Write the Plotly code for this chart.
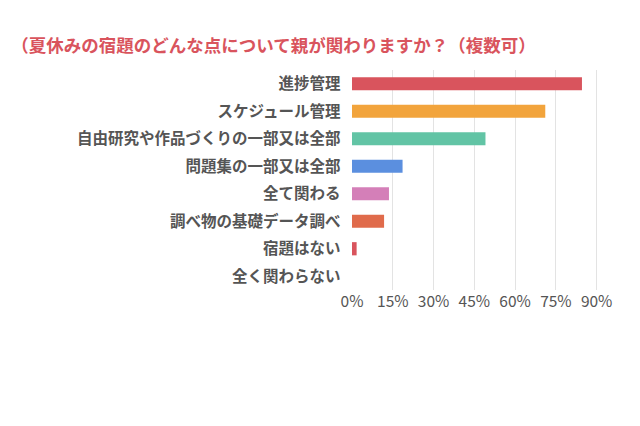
import plotly.graph_objects as go

categories = ["進捗管理", "スケジュール管理", "自由研究や作品づくりの一部又は全部", "問題集の一部又は全部",
              "全て関わる", "調べ物の基礎データ調べ", "宿題はない", "全く関わらない"]
values = [84.6, 71.1, 49.1, 18.6, 13.6, 11.8, 1.7, 0]
colors = ["#d9545d", "#f2a43c", "#62c4a5", "#5b8fdf", "#d47fb8", "#e06b4b", "#d9545d", "#d9545d"]
tick_vals = [0, 15, 30, 45, 60, 75, 90]
tick_text = ["0%", "15%", "30%", "45%", "60%", "75%", "90%"]

fig = go.Figure(go.Bar(
    x=values, y=categories, orientation="h",
    marker=dict(color=colors, line=dict(width=0)), width=0.48,
))
fig.update_layout(
    width=640, height=426, plot_bgcolor="white", paper_bgcolor="white",
    margin=dict(l=344, r=50, t=62, b=144),
    showlegend=False,
    font=dict(family="Noto Sans CJK JP", color="#555555"),
    title=dict(text="<b>（夏休みの宿題のどんな点について親が関わりますか？（複数可）</b>",
               x=0.005, xanchor="left", y=0.925, font=dict(size=17.5, color="#d9545d")),
)
fig.update_xaxes(range=[0, 90.5], tickvals=tick_vals, ticktext=tick_text,
                 showgrid=True, gridcolor="#e3e3e3", zeroline=False, automargin=False,
                 tickfont=dict(size=15.5, color="#555555"))
fig.update_yaxes(autorange="reversed", tickfont=dict(size=15.5, color="#555555", weight="bold"),
                 ticksuffix="   ", showgrid=False, automargin=False)
fig.write_html("out.html")
